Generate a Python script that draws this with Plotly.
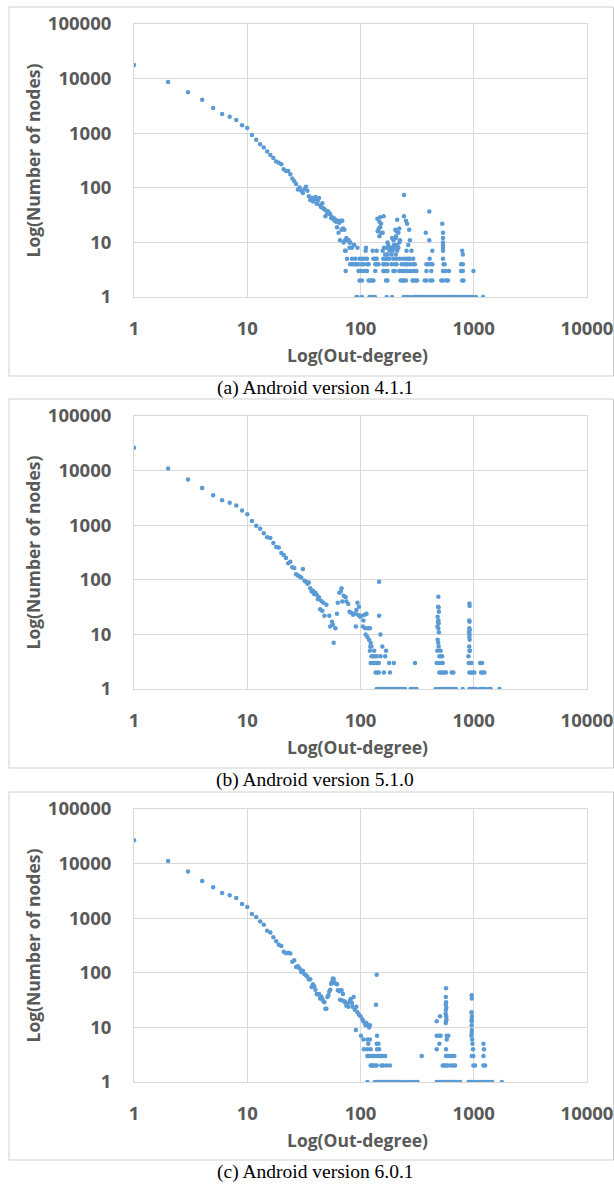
import plotly.graph_objects as go

W, H = 614, 1184

# ---------------- data ----------------
y_tick_vals = [1, 10, 100, 1000, 10000, 100000]
y_tick_text = ["1", "10", "100", "1000", "10000", "100000"]
x_tick_vals = [1, 10, 100, 1000, 10000]
x_tick_text = ["1", "10", "100", "1000", "10000"]

captions = ["(a) Android version 4.1.1", "(b) Android version 5.1.0", "(c) Android version 6.0.1"]
x_title = "Log(Out-degree)"
y_title = "Log(Number of nodes)"

# ---- (a) Android 4.1.1 ----
a_head = [17800, 8700, 5600, 4100, 2900, 2250, 2000, 1750, 1400, 1250,
          930, 760, 630, 550, 460, 400, 350, 302, 287, 271,
          219, 204, 204, 178, 148, 132, 118, 93, 101, 88]
a_mid_x = [31, 32, 33, 34, 35, 36, 37, 38, 39, 40, 41, 42, 43, 44, 45, 46, 47, 48, 49, 50,
           51, 52, 53, 54, 55, 56, 57, 58, 59, 60, 61, 62, 63, 64, 65, 66, 67, 68, 69, 70,
           71, 72, 73, 74, 75, 77, 79, 80, 81, 84, 88, 94]
a_mid_y = [80, 95, 104, 88, 70, 60, 66, 56, 62, 68, 51, 58, 65, 48, 44, 52, 42, 40, 30, 38,
           34, 37, 33, 33, 28, 29, 27, 28, 25, 26, 24, 19, 25, 15, 23, 11, 25, 17, 25, 18,
           10, 17, 11, 7, 12, 11, 11, 10, 10, 8, 9, 8]
a_rows = {
    1: [92, 94, 103, 120, 124, 128, 134, 170, 190, 241, 252, 260, 273, 292, 300, 308, 316, 325,
        334, 345, 356, 368, 380, 392, 405, 418, 432, 446, 460, 475, 490, 506, 522, 538, 555, 572,
        590, 608, 627, 646, 666, 687, 708, 730, 752, 775, 798, 822, 848, 874, 900, 928, 956, 980,
        1047, 1208],
    2: [98, 103, 118, 122, 126, 130, 168, 173, 226, 235, 242, 252, 288, 296, 308, 316, 369, 382,
        414, 431, 517, 535, 572, 591, 790, 812],
    3: [74, 96, 101, 106, 110, 114, 135, 159, 165, 173, 195, 201, 220, 231, 242, 252, 258, 273,
        288, 302, 312, 382, 422, 535, 564, 604, 774, 801, 993],
    4: [81, 84, 87, 90, 93, 96, 103, 106, 114, 118, 135, 139, 144, 159, 165, 173, 188, 201, 208,
        231, 242, 252, 258, 273, 292, 302, 382, 395, 414, 431, 542, 553, 774, 801],
    5: [76, 84, 90, 98, 103, 108, 114, 130, 135, 139, 159, 165, 173, 180, 195, 208, 223, 238,
        252, 264, 273, 292, 408, 535],
}
a_tail_x = [73, 80, 87, 112, 111, 128, 139, 157, 161, 165, 170, 173, 180, 182, 188, 192, 197, 201,
            205, 211, 216, 220, 173, 187, 176, 190, 196, 141, 149, 147, 142, 149, 151, 147, 157,
            152, 145, 160, 203, 206, 211, 208, 216, 220, 205, 223, 201, 211, 242, 242, 252, 258,
            269, 273, 264, 282, 255, 377, 405, 405, 431, 527, 535, 535, 535, 535, 535, 535, 790, 801]
a_tail_y = [7, 8, 9, 8, 7, 7, 7, 7, 8, 6, 8, 6, 7, 8, 6, 7, 9, 8,
            6, 7, 8, 10, 10, 8, 9, 12, 11, 27, 29, 24, 16, 19, 15, 13, 15,
            22, 18, 30, 17, 13, 26, 16, 15, 18, 12, 11, 9, 9, 74, 30, 25, 22,
            17, 11, 9, 7, 7, 15, 37, 11, 7, 22, 15, 12, 10, 9, 8, 7, 7, 6]

# ---- (b) Android 5.1.0 ----
b_head = [26300, 10900, 6900, 4780, 3530, 2870, 2570, 2300, 1860, 1590,
          1200, 980, 860, 710, 600, 580, 470, 400, 390, 310,
          285, 250, 200, 215, 170, 165, 126, 120, 115]
b_mid_x = [30, 31, 32, 33, 34, 35, 36, 37, 38, 39, 40, 41, 42, 43, 44, 45, 46, 47, 48,
           50, 53, 54, 56, 57, 58, 60, 62, 63, 65, 67, 68, 69, 71, 74, 75, 78, 80, 83, 86, 89,
           91, 92, 94, 95, 97, 99, 102, 105, 106, 109, 110, 111, 113, 115, 117, 119, 121, 122, 123, 125]
b_mid_y = [110, 157, 96, 92, 85, 89, 70, 61, 63, 55, 58, 53, 44, 48, 29, 41, 27, 38, 22,
           35, 22, 14, 17, 15, 7, 13, 24, 38, 58, 61, 70, 40, 51, 48, 40, 36, 26, 25, 23, 24,
           14, 28, 38, 23, 32, 21, 22, 14, 18, 23, 13, 10, 24, 9, 13, 8, 13, 6, 7, 6]
b_rows = {
    1: [139, 144, 148, 153, 159, 164, 170, 176, 182, 188, 195, 201, 208, 215, 226, 235, 247, 277,
        288, 303, 313, 461, 487, 510, 532, 550, 569, 589, 609, 630, 651, 674, 698, 800, 916, 947,
        979, 1013, 1048, 1137, 1177, 1218, 1260, 1349, 1414, 1687],
    2: [136, 140, 145, 161, 182, 497, 514, 532, 550, 569, 639, 661, 916, 947, 979, 1013, 1161,
        1202, 1243],
    3: [123, 128, 132, 137, 140, 145, 179, 197, 303, 471, 497, 514, 532, 903, 929, 953, 1137, 1185],
    4: [125, 129, 134, 139, 150, 165, 497, 514, 525, 898],
    5: [121, 132, 168, 477, 510, 916],
}
b_tail_x = [146, 146, 150, 156, 490, 487, 485, 489, 492, 480, 487, 483, 490, 478, 486, 492, 480,
            485, 916, 920, 912, 918, 914, 922, 910, 918, 915, 920, 912, 925]
b_tail_y = [92, 22, 10, 6, 6, 49, 32, 31, 26, 21, 18, 17, 16, 14, 13, 11, 8,
            7, 37, 33, 18, 17, 13, 12, 11, 10, 9, 8, 6, 5]

# ---- (c) Android 6.0.1 ----
c_head = [26700, 11200, 7200, 4800, 3700, 2890, 2630, 2340, 1820, 1600,
          1200, 1050, 870, 760, 590, 550, 450, 380, 325, 310,
          244, 229, 234, 225, 160, 170, 128, 132, 120]
c_mid_x = [30, 31, 32, 33, 34, 35, 36, 37, 38, 39, 40, 41, 42, 43, 44, 45, 46, 47, 48, 49,
           50, 51, 52, 53, 54, 55, 56, 57, 58, 59, 61, 62, 63, 65, 66, 67, 68, 69, 70, 72,
           73, 75, 76, 78, 80, 81, 82, 84, 85, 87, 89, 91, 92, 94, 97, 100, 101, 104, 106, 109,
           111, 113, 117, 119, 121]
c_mid_y = [103, 109, 94, 90, 85, 75, 76, 55, 62, 57, 49, 41, 40, 41, 34, 37, 33, 30, 29, 22,
           22, 36, 39, 45, 49, 63, 68, 79, 77, 66, 63, 62, 48, 46, 32, 48, 48, 31, 41, 30,
           29, 25, 27, 24, 29, 31, 33, 28, 24, 36, 21, 9, 24, 19, 17, 16, 7, 14, 13, 12,
           11, 12, 11, 10, 11]
c_rows = {
    1: [115, 134, 139, 143, 148, 153, 159, 164, 170, 176, 182, 188, 195, 201, 208, 215, 223, 231,
        247, 264, 277, 292, 309, 319, 471, 487, 504, 521, 540, 557, 577, 597, 617, 639, 661, 684,
        708, 757, 898, 929, 960, 993, 1027, 1064, 1137, 1202, 1260, 1319, 1377, 1453, 1770],
    2: [123, 126, 129, 134, 139, 153, 159, 170, 182, 532, 550, 569, 589, 630, 661, 684, 993, 1027,
        1218, 1260],
    3: [115, 118, 121, 125, 129, 134, 139, 144, 148, 153, 159, 165, 347, 569, 589, 609, 630, 651,
        674, 960, 993, 1218],
    4: [107, 115, 123, 140, 146, 471, 569, 985, 1230],
    5: [117, 139, 144, 497, 975, 1218],
    6: [106, 115, 121, 577, 968],
    7: [140, 471, 497, 510, 577, 597, 953],
}
c_tail_x = [139, 137, 569, 567, 570, 566, 572, 568, 565, 571, 574, 569, 566, 504, 471,
            958, 960, 955, 962, 958, 960, 957, 961, 959]
c_tail_y = [92, 26, 52, 36, 29, 26, 23, 21, 18, 16, 14, 13, 12, 16, 13,
            39, 34, 19, 16, 14, 13, 11, 9, 8]


def assemble(head, mid_x, mid_y, rows, tail_x, tail_y):
    xs = list(range(1, len(head) + 1)) + list(mid_x)
    ys = list(head) + list(mid_y)
    for cnt, degs in rows.items():
        xs += degs
        ys += [cnt] * len(degs)
    xs += list(tail_x)
    ys += list(tail_y)
    return xs, ys


panels = [
    assemble(a_head, a_mid_x, a_mid_y, a_rows, a_tail_x, a_tail_y),
    assemble(b_head, b_mid_x, b_mid_y, b_rows, b_tail_x, b_tail_y),
    assemble(c_head, c_mid_x, c_mid_y, c_rows, c_tail_x, c_tail_y),
]

# ---------------- layout geometry (pixels) ----------------
PLOT_L, PLOT_R = 134, 587
plot_tops = [24, 416, 809]
plot_bottoms = [297, 689, 1082]
box_tops = [7, 399, 792]
box_bottoms = [376, 768, 1160]
BOX_L = 9

TXT = "#595959"
GRID = "#d9d9d9"
BLUE = "#5b9bd5"


def px(x):
    return x / W


def py(y):
    return 1 - y / H


fig = go.Figure()
layout = dict(
    width=W, height=H, margin=dict(l=0, r=0, t=0, b=0, pad=0),
    paper_bgcolor="white", plot_bgcolor="white", showlegend=False, autosize=False,
    shapes=[], annotations=[],
)

for i, (xs, ys) in enumerate(panels):
    sfx = "" if i == 0 else str(i + 1)
    fig.add_trace(go.Scatter(
        x=xs, y=ys, mode="markers",
        marker=dict(color=BLUE, size=4.5, line=dict(width=0)),
        xaxis="x" + sfx, yaxis="y" + sfx, hoverinfo="skip",
    ))
    layout["xaxis" + sfx] = dict(
        type="log", range=[0, 4], domain=[px(PLOT_L), px(PLOT_R)],
        anchor="y" + sfx, tickvals=x_tick_vals, ticktext=x_tick_text,
        showgrid=True, gridcolor=GRID, gridwidth=1,
        showline=True, linecolor=GRID, linewidth=1, mirror=True,
        ticks="", zeroline=False, ticklabelstandoff=15, automargin=False,
        tickfont=dict(family="Open Sans", size=18.5, color=TXT, weight=700),
    )
    layout["yaxis" + sfx] = dict(
        type="log", range=[0, 5],
        domain=[py(plot_bottoms[i]), py(plot_tops[i])],
        anchor="x" + sfx, tickvals=y_tick_vals, ticktext=y_tick_text,
        showgrid=True, gridcolor=GRID, gridwidth=1,
        showline=True, linecolor=GRID, linewidth=1, mirror=True,
        ticks="", zeroline=False, ticklabelstandoff=18, automargin=False,
        tickfont=dict(family="Open Sans", size=18.5, color=TXT, weight=700),
    )
    # outer frame (open on the right, as in the cropped figure)
    layout["shapes"].append(dict(
        type="rect", xref="paper", yref="paper",
        x0=px(BOX_L), x1=px(W - 0.5), y0=py(box_bottoms[i]), y1=py(box_tops[i]),
        line=dict(color="#d0d0d0", width=1), fillcolor="rgba(0,0,0,0)", layer="below",
    ))
    # axis titles
    layout["annotations"].append(dict(
        text=x_title, xref="paper", yref="paper",
        x=px((PLOT_L + PLOT_R) / 2 - 3), y=py(plot_bottoms[i] + 58),
        xanchor="center", yanchor="middle", showarrow=False,
        font=dict(family="Open Sans", size=17.5, color=TXT, weight=700),
    ))
    layout["annotations"].append(dict(
        text=y_title, xref="paper", yref="paper", textangle=-90,
        x=px(32), y=py((plot_tops[i] + plot_bottoms[i]) / 2),
        xanchor="center", yanchor="middle", showarrow=False,
        font=dict(family="Open Sans", size=17.5, color=TXT, weight=700),
    ))
    # caption
    layout["annotations"].append(dict(
        text=captions[i], xref="paper", yref="paper",
        x=px(315), y=py(box_bottoms[i] + 12),
        xanchor="center", yanchor="middle", showarrow=False,
        font=dict(family="Liberation Serif", size=19.5, color="black"),
    ))

fig.update_layout(**layout)
fig.write_html(
    "out.html",
    config={"responsive": False, "displayModeBar": False},
    post_script="document.body.style.margin='0';document.body.style.overflow='hidden';",
)
